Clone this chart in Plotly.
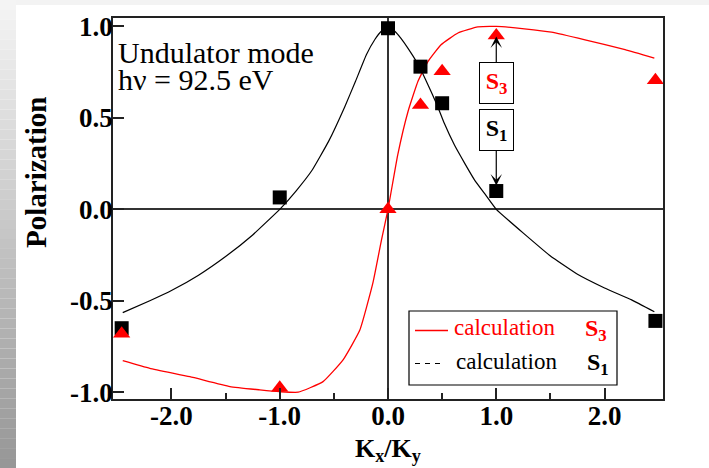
import plotly.graph_objects as go

# ---------------- data ----------------
s1_calc_x = [-2.45, -2.2, -2.0, -1.75, -1.5, -1.25, -1.0, -0.85, -0.7, -0.55, -0.4, -0.3, -0.2,
             -0.12, -0.06, 0.0, 0.06, 0.12, 0.185, 0.25, 0.31, 0.37, 0.45, 0.52, 0.615, 0.71,
             0.8, 0.9, 1.0, 1.25, 1.5, 1.75, 2.0, 2.25, 2.46]
s1_calc_y = [-0.565, -0.50, -0.444, -0.36, -0.258, -0.14, 0.0, 0.10, 0.215, 0.37, 0.56, 0.70, 0.845,
             0.93, 0.975, 1.0, 0.975, 0.935, 0.88, 0.82, 0.755, 0.68, 0.575, 0.47, 0.35, 0.25,
             0.16, 0.08, 0.0, -0.13, -0.255, -0.355, -0.43, -0.495, -0.56]

s3_calc_x = [-2.45, -2.2, -1.83, -1.46, -1.185, -1.0, -0.83, -0.6, -0.415, -0.26, -0.14, -0.06,
             0.0, 0.09, 0.185, 0.277, 0.37, 0.49, 0.646, 0.83, 1.0, 1.26, 1.51, 1.82, 2.19, 2.46]
s3_calc_y = [-0.827, -0.869, -0.915, -0.969, -0.987, -0.997, -1.0, -0.942, -0.823, -0.66, -0.404,
             -0.167, 0.0, 0.298, 0.535, 0.70, 0.809, 0.90, 0.964, 0.997, 1.0, 0.987, 0.969, 0.927,
             0.873, 0.827]

s1_meas_x = [-2.46, -1.0, 0.0, 0.3, 0.5, 1.0, 2.47]
s1_meas_y = [-0.65, 0.065, 0.99, 0.78, 0.58, 0.10, -0.61]
s3_meas_x = [-2.46, -1.0, 0.0, 0.3, 0.5, 1.0, 2.47]
s3_meas_y = [-0.68, -0.975, 0.0, 0.57, 0.755, 0.95, 0.705]

x_tickvals = [-2, -1, 0, 1, 2]
x_ticktext = ["-2.0", "-1.0", "0.0", "1.0", "2.0"]
x_minorvals = [-1.5, -0.5, 0.5, 1.5]
y_tickvals = [-1, -0.5, 0, 0.5, 1]
y_ticktext = ["-1.0", "-0.5", "0.0", "0.5", "1.0"]

# ---------------- layout geometry ----------------
W, H = 709, 468
ML, MR, MT, MB = 113, 46, 18, 69
PW, PH = W - ML - MR, H - MT - MB
SERIF = "Liberation Serif, Times New Roman, serif"
RED = "#ff0000"
AX = "#222222"


def px(X):
    return (X - ML) / PW


def py(Y):
    return (H - MB - Y) / PH


fig = go.Figure()
fig.add_trace(go.Scatter(x=s1_calc_x, y=s1_calc_y, mode="lines",
                         line=dict(color="black", width=1.2, shape="spline", smoothing=0.3),
                         showlegend=False))
fig.add_trace(go.Scatter(x=s3_calc_x, y=s3_calc_y, mode="lines",
                         line=dict(color=RED, width=1.3, shape="spline", smoothing=0.4),
                         showlegend=False))
fig.add_trace(go.Scatter(x=s1_meas_x, y=s1_meas_y, mode="markers",
                         marker=dict(symbol="square", size=14, color="black"),
                         showlegend=False, cliponaxis=True))
fig.add_trace(go.Scatter(x=s3_meas_x, y=s3_meas_y, mode="markers",
                         marker=dict(symbol="triangle-up", size=15, color=RED),
                         showlegend=False, cliponaxis=True))

shapes = []
# left gray gradient strip
nb = 47
for i in range(nb):
    y0 = i * H / nb
    y1 = (i + 1) * H / nb
    t = (i + 0.5) / nb
    c = int(round(245 - t * (245 - 150)))
    shapes.append(dict(type="rect", xref="paper", yref="paper", x0=px(0), x1=px(16),
                       y0=py(y1), y1=py(y0), line=dict(width=0),
                       fillcolor=f"rgb({c},{c},{c})", layer="below"))
# thin light band at top
shapes.append(dict(type="rect", xref="paper", yref="paper", x0=px(16), x1=px(W),
                   y0=py(5), y1=py(0), line=dict(width=0), fillcolor="#f3f3f3", layer="below"))
# legend box
shapes.append(dict(type="rect", xref="paper", yref="paper", x0=px(409), x1=px(617),
                   y0=py(385), y1=py(311), line=dict(color="black", width=1.2),
                   fillcolor="white", layer="above"))
shapes.append(dict(type="line", xref="paper", yref="paper", x0=px(415), x1=px(448),
                   y0=py(330.5), y1=py(330.5), line=dict(color=RED, width=1.3)))
shapes.append(dict(type="line", xref="paper", yref="paper", x0=px(415), x1=px(442),
                   y0=py(363.5), y1=py(363.5), line=dict(color="black", width=1.2, dash="5px,5px")))

ann = []
ann.append(dict(xref="paper", yref="paper", x=px(116), y=py(52), xanchor="left", yanchor="middle",
                text="Undulator mode", showarrow=False, height=27,
                font=dict(family=SERIF, size=30, color="black")))
ann.append(dict(xref="paper", yref="paper", x=px(116), y=py(80), xanchor="left", yanchor="middle",
                text="h\u03bd = 92.5 eV", showarrow=False, height=27,
                font=dict(family=SERIF, size=30, color="black")))
# legend texts
ann.append(dict(xref="paper", yref="paper", x=px(452), y=py(327), xanchor="left", yanchor="middle",
                text="calculation", showarrow=False, font=dict(family=SERIF, size=23, color=RED)))
ann.append(dict(xref="paper", yref="paper", x=px(454), y=py(361), xanchor="left", yanchor="middle",
                text="calculation", showarrow=False, font=dict(family=SERIF, size=23, color="black")))
ann.append(dict(xref="paper", yref="paper", x=px(583), y=py(330), xanchor="left", yanchor="middle",
                text="<b>S<sub>3</sub></b>", showarrow=False, font=dict(family=SERIF, size=24, color=RED)))
ann.append(dict(xref="paper", yref="paper", x=px(585), y=py(364), xanchor="left", yanchor="middle",
                text="<b>S<sub>1</sub></b>", showarrow=False, font=dict(family=SERIF, size=24, color="black")))
# S3 / S1 boxed labels with arrows
ann.append(dict(x=1.0, y=0.945, xref="x", yref="y", ax=0, ay=47, axref="pixel", ayref="pixel",
                text="<b>S<sub>3</sub></b>", font=dict(family=SERIF, size=24, color=RED),
                showarrow=True, arrowhead=3, arrowsize=1.6, arrowwidth=1.2, arrowcolor="black",
                bordercolor="black", borderwidth=1, borderpad=2, bgcolor="white",
                width=29, height=36))
ann.append(dict(x=1.0, y=0.13, xref="x", yref="y", ax=0, ay=-56, axref="pixel", ayref="pixel",
                text="<b>S<sub>1</sub></b>", font=dict(family=SERIF, size=24, color="black"),
                showarrow=True, arrowhead=3, arrowsize=1.6, arrowwidth=1.2, arrowcolor="black",
                bordercolor="black", borderwidth=1, borderpad=2, bgcolor="white",
                width=29, height=36))
# axis titles
ann.append(dict(xref="paper", yref="paper", x=px(36), y=py(172), xanchor="center", yanchor="middle",
                text="<b>Polarization</b>", textangle=-90, showarrow=False,
                font=dict(family=SERIF, size=29, color="black")))
ann.append(dict(xref="paper", yref="paper", x=px(388), y=py(450), xanchor="center", yanchor="middle",
                text="<b>K<sub>x</sub>/K<sub>y</sub></b>", showarrow=False,
                font=dict(family=SERIF, size=26, color="black")))

axis_common = dict(showline=True, mirror=True, linecolor=AX, linewidth=1.5,
                   ticks="inside", ticklen=11, tickwidth=1.5, tickcolor=AX,
                   showgrid=False, zeroline=True, zerolinecolor="#333333", zerolinewidth=1.5,
                   tickfont=dict(family=SERIF, size=27, color="black", weight="bold"))

fig.update_layout(
    width=W, height=H, autosize=False,
    margin=dict(l=ML, r=MR, t=MT, b=MB, pad=0),
    paper_bgcolor="white", plot_bgcolor="white",
    showlegend=False,
    xaxis=dict(range=[-2.54, 2.54], tickmode="array", tickvals=x_tickvals, ticktext=x_ticktext,
               minor=dict(tickmode="array", tickvals=x_minorvals, ticks="inside", ticklen=6,
                          tickwidth=1.5, tickcolor=AX, showgrid=False),
               ticklabelstandoff=-8, **axis_common),
    yaxis=dict(range=[-1.037, 1.046], tickmode="array", tickvals=y_tickvals, ticktext=y_ticktext,
               ticklabelstandoff=-7, **axis_common),
    shapes=shapes, annotations=ann,
)

fig.write_html("out.html")
